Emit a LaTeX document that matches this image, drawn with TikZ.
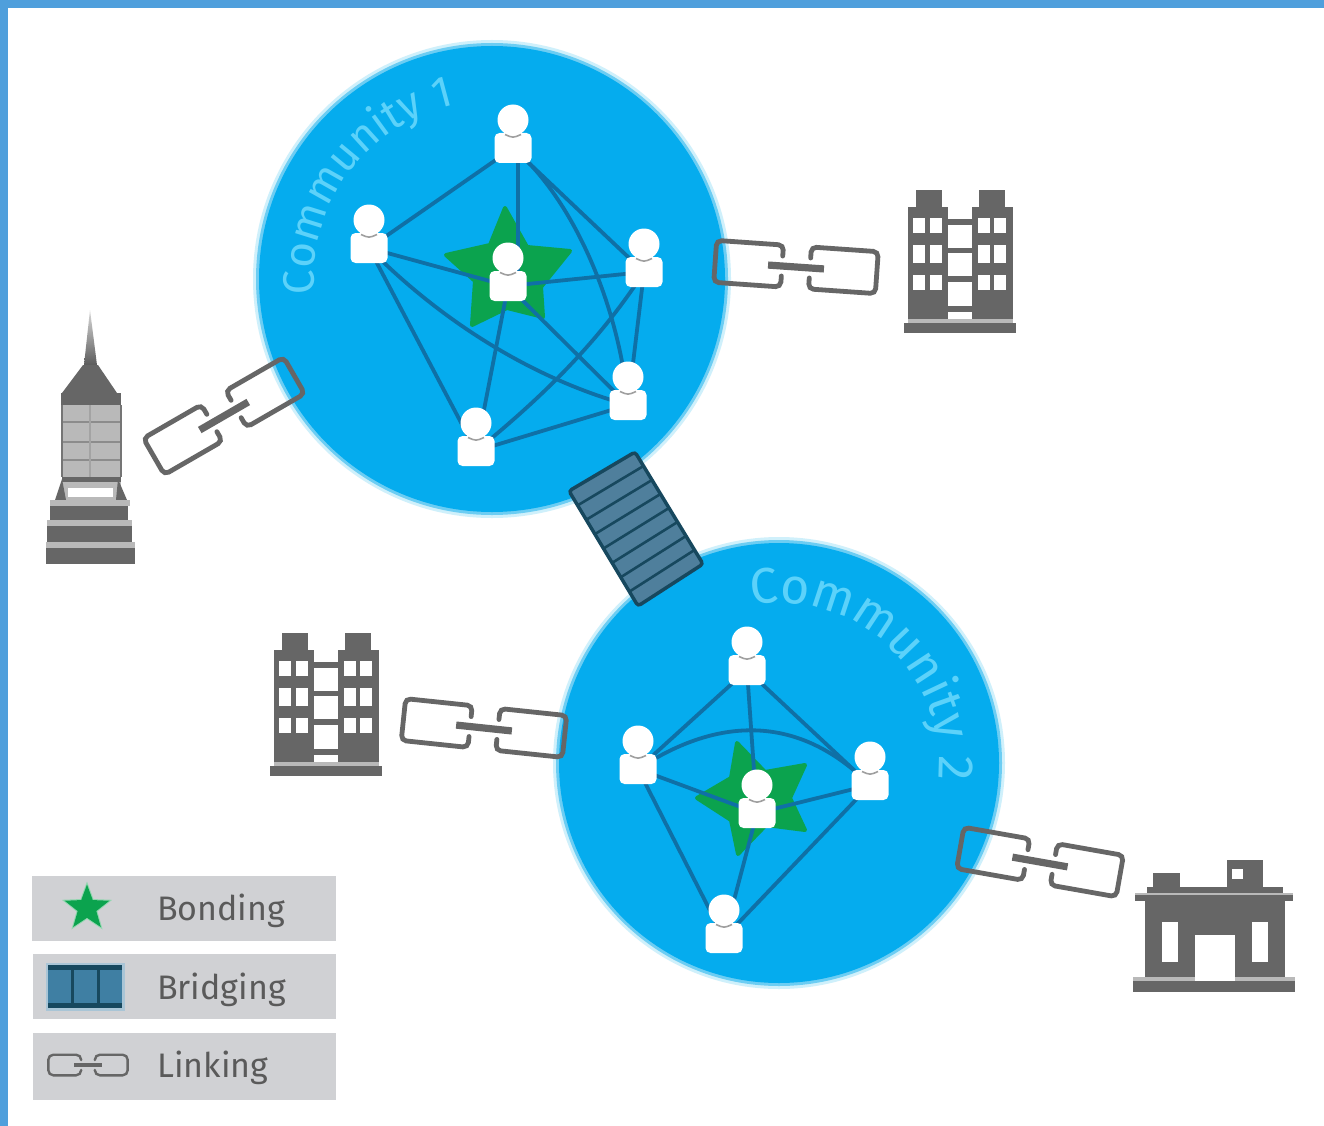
\documentclass[tikz,border=0pt]{standalone}
\usepackage{fontspec}
\setmainfont{Fira Sans}
\usetikzlibrary{calc,decorations.text,shapes.geometric}
\definecolor{frameblue}{HTML}{4F9FDC}
\definecolor{disc}{HTML}{05ACEE}
\definecolor{discedge}{HTML}{6CCDF3}
\definecolor{dischalo}{HTML}{CFF0FB}
\definecolor{edgeblue}{HTML}{0F70A6}
\definecolor{commtext}{HTML}{5CD2FA}
\definecolor{stargreen}{HTML}{0BA34E}
\definecolor{iconGrey}{HTML}{666666}
\definecolor{towerlight}{HTML}{B9B9B9}
\definecolor{legendgrey}{HTML}{D0D1D4}
\definecolor{bridgefill}{HTML}{4F7F9C}
\definecolor{bridgeline}{HTML}{17485E}
\definecolor{legendblue}{HTML}{3F7FA3}
\definecolor{labelgrey}{HTML}{5A5A5A}
\tikzset{
  net/.style={draw=edgeblue,line width=3.8pt},
  personbody/.style={rectangle,rounded corners=5pt,fill=white,minimum width=37pt,minimum height=30pt,inner sep=0pt,draw=none},
  personhead/.style={circle,fill=white,minimum size=31pt,inner sep=0pt,draw=none},
  neck/.style={draw=gray!75,line width=1.6pt},
  legendbar/.style={fill=legendgrey,draw=none},
  legendlabel/.style={anchor=west,inner sep=0pt,text=labelgrey,font=\fontsize{34}{34}\selectfont},
  starfill/.style={fill=stargreen,draw=stargreen,line width=4pt,line join=round},
  icon/.style={fill=iconGrey,draw=none},
  hole/.style={fill=white,draw=none},
  pics/linkicon/.style={code={
    \draw[iconGrey,line width=#1,rounded corners=5pt,line cap=round]
      (-14,-10) -- (-14,-21) -- (-81,-21) -- (-81,21) -- (-14,21) -- (-14,10);
    \draw[iconGrey,line width=#1,rounded corners=5pt,line cap=round]
      (14,-10) -- (14,-21) -- (81,-21) -- (81,21) -- (14,21) -- (14,10);
    \draw[iconGrey,line width=1.5*#1] (-28,0) -- (28,0);
  }},
  pics/linkicon/.default=4.8pt,
  pics/blockhouse/.style={code={
    \fill[icon] (4,17) rectangle (44,133);
    \fill[icon] (68,17) rectangle (109,133);
    \fill[icon] (12,0) rectangle (38,17);
    \fill[icon] (75,0) rectangle (101,17);
    \fill[icon] (0,133) rectangle (112,143);
    \fill[towerlight] (4,129) rectangle (109,133);
    \fill[icon] (44,29) rectangle (68,35);
    \fill[icon] (44,58) rectangle (68,63);
    \fill[icon] (44,86) rectangle (68,92);
    \fill[icon] (44,116) rectangle (68,122);
    \foreach \cx in {9,26,74,90}{
      \fill[hole] (\cx,28) rectangle ++(12,15);
      \fill[hole] (\cx,55) rectangle ++(12,18);
      \fill[hole] (\cx,85) rectangle ++(12,15);
    }
  }},
}
\newcommand{\drawperson}[1]{%
  \node[personbody] (#1b) at (#1) {};
  \node[personhead] (#1h) at ([yshift=28pt]#1) {};
  \draw[neck] ([shift={(-8pt,13.5pt)}]#1) .. controls ([shift={(0pt,10pt)}]#1) .. ([shift={(8pt,13.5pt)}]#1);
}
\begin{document}
\begin{tikzpicture}[x=1pt,y=-1pt]
\useasboundingbox (0,0) rectangle (1324,1126);
\fill[white] (0,0) rectangle (1324,1126);
\fill[frameblue] (0,0) rectangle (1324,8);
\fill[frameblue] (0,0) rectangle (8,1126);

% community discs
\coordinate (c1) at (492,279);
\coordinate (c2) at (779,763);
\foreach \cc/\rr in {c1/237,c2/224}{
  \fill[dischalo] (\cc) circle[radius=\rr pt+2pt];
  \fill[discedge] (\cc) circle[radius=\rr pt-1pt];
  \fill[disc] (\cc) circle[radius=\rr pt-4pt];
}

% community titles
\path[decorate,decoration={text along path,text align=left,
   text={|\fontsize{44}{44}\selectfont\color{commtext}|Community 1}}]
   ({492+178*cos(185)},{279-178*sin(185)}) arc[start angle=185,end angle=30,radius=178pt];
\path[decorate,decoration={text along path,text align=left,
   text={|\fontsize{50}{50}\selectfont\color{commtext}|Community 2}}]
   ({779+160*cos(100)},{763-160*sin(100)}) arc[start angle=100,end angle=-40,radius=160pt];

% stars
\fill[starfill] (505,208) -- (527,247) -- (570,251) -- (541,287) -- (543,317) -- (507,308) -- (472,325) -- (475,281) -- (446,255) -- (490,245) -- cycle;
\fill[starfill] (737,743) -- (765,772) -- (805,765) -- (790,798) -- (805,830) -- (766,825) -- (738,854) -- (731,820) -- (697,798) -- (731,778) -- cycle;

% community 1 people
\coordinate (a1) at (513,148);
\coordinate (a2) at (369,248);
\coordinate (a3) at (644,272);
\coordinate (a4) at (508,286);
\coordinate (a5) at (628,405);
\coordinate (a6) at (476,451);
\draw[net] (a1) -- (a2);
\draw[net] (a1) -- (a3);
\draw[net] ([xshift=5pt]a1) -- ([xshift=10pt]a4);
\draw[net] (a1) .. controls (575,200) and (620,310) .. (a5);
\draw[net] (a2) -- (a4);
\draw[net] (a2) -- (a6);
\draw[net] (a2) .. controls (430,310) and (520,375) .. (a5);
\draw[net] (a4) -- (a3);
\draw[net] (a4) -- (a5);
\draw[net] (a4) -- (a6);
\draw[net] (a3) -- (a5);
\draw[net] (a3) .. controls (600,340) and (545,395) .. (a6);
\draw[net] (a6) -- (a5);
\foreach \p in {a1,a2,a3,a4,a5,a6}{\drawperson{\p}}

% community 2 people
\coordinate (b1) at (747,670);
\coordinate (b2) at (638,769);
\coordinate (b3) at (870,785);
\coordinate (b4) at (757,813);
\coordinate (b5) at (724,938);
\draw[net] (b1) -- (b2);
\draw[net] (b1) -- (b3);
\draw[net] (b1) -- (b4);
\draw[net] (b2) -- (b4);
\draw[net] (b4) -- (b3);
\draw[net] (b2) .. controls (720,715) and (800,715) .. (b3);
\draw[net] (b2) -- (b5);
\draw[net] (b4) -- (b5);
\draw[net] (b3) -- (b5);
\foreach \p in {b1,b2,b3,b4,b5}{\drawperson{\p}}

% bridge
\coordinate (ba) at (569,491);
\coordinate (bb) at (635,452);
\coordinate (bc) at (703,564);
\coordinate (bd) at (638,606);
\filldraw[fill=bridgefill,draw=bridgeline,line width=3.5pt,rounded corners=3pt] (ba) -- (bb) -- (bc) -- (bd) -- cycle;
\foreach \t in {0.125,0.25,0.375,0.5,0.625,0.75,0.875}{
  \draw[bridgeline,line width=2.6pt] ($(ba)!\t!(bd)$) -- ($(bb)!\t!(bc)$);
}

% links
\pic[rotate=-4] at (796,267) {linkicon};
\pic[rotate=30] at (224,416) {linkicon};
\pic[rotate=-6] at (484,728) {linkicon};
\pic[rotate=-10] at (1040,862) {linkicon};

% buildings
\pic at (904,190) {blockhouse};
\pic at (270,633) {blockhouse};

% skyscraper
\shade[top color=white!85!black,bottom color=iconGrey!90!black] (90,310) -- (97,365) -- (84,365) -- cycle;
\fill[iconGrey] (83,365) -- (98,365) -- (117,393) -- (62,393) -- cycle;
\fill[iconGrey] (61,393) rectangle (121,405);
\fill[towerlight] (62,405) rectangle (121,477);
\foreach \yy in {422,442,460}{\draw[iconGrey!75,line width=2pt] (62,\yy) -- (121,\yy);}
\draw[iconGrey!60,line width=1.5pt] (90,405) -- (90,477);
\draw[iconGrey!90,line width=2pt] (62,405) -- (62,477);
\draw[iconGrey!90,line width=2pt] (121,405) -- (121,477);
\fill[iconGrey] (62,477) rectangle (121,482);
\fill[towerlight] (62,482) rectangle (121,502);
\fill[white] (68,488) rectangle (113,497);
\fill[iconGrey] (62,479) -- (66,500) -- (55,500) -- cycle;
\fill[iconGrey] (118,479) -- (127,500) -- (116,500) -- cycle;
\fill[towerlight] (50,500) rectangle (130,506);
\fill[iconGrey] (50,506) rectangle (128,520);
\fill[towerlight] (47,520) rectangle (132,526);
\fill[iconGrey] (47,526) rectangle (132,542);
\fill[towerlight] (46,542) rectangle (135,548);
\fill[iconGrey] (46,548) rectangle (135,564);

% house
\fill[icon] (1145,901) rectangle (1285,978);
\fill[towerlight] (1135,893) rectangle (1293,896);
\fill[icon] (1135,895) rectangle (1293,901);
\fill[icon] (1147,887) rectangle (1283,893);
\fill[icon] (1153,873) rectangle (1180,887);
\fill[icon] (1227,860) rectangle (1263,887);
\fill[hole] (1232,869) rectangle (1243,879);
\fill[hole] (1162,922) rectangle (1178,962);
\fill[hole] (1252,922) rectangle (1268,962);
\fill[towerlight] (1133,977) rectangle (1295,981);
\fill[hole] (1195,935) rectangle (1235,981);
\fill[icon] (1133,981) rectangle (1295,992);

% legend
\fill[legendbar] (32,876) rectangle (336,941);
\fill[legendbar] (33,954) rectangle (336,1019);
\fill[legendbar] (33,1033) rectangle (336,1100);
\node[star,star points=5,star point ratio=2.4,fill=stargreen!45!white,minimum size=53pt,inner sep=0pt] (legstarhalo) at (87,908) {};
\node[star,star points=5,star point ratio=2.4,fill=stargreen,minimum size=47pt,inner sep=0pt] (legstar) at (87,908) {};
\fill[legendblue!45!white] (46,963) rectangle (125,1011);
\fill[legendblue] (48,965) rectangle (122,1008);
\fill[bridgeline] (48,965) rectangle (122,970);
\fill[bridgeline] (48,1003) rectangle (122,1008);
\fill[bridgeline] (71,965) rectangle (73.5,1008);
\fill[bridgeline] (97,965) rectangle (99.5,1008);
\pic[scale=0.49] at (88,1065) {linkicon=2.4pt};
\node[legendlabel] (lb1) at (157,911) {Bonding};
\node[legendlabel] (lb2) at (157,990) {Bridging};
\node[legendlabel] (lb3) at (157,1068) {Linking};
\end{tikzpicture}
\end{document}
